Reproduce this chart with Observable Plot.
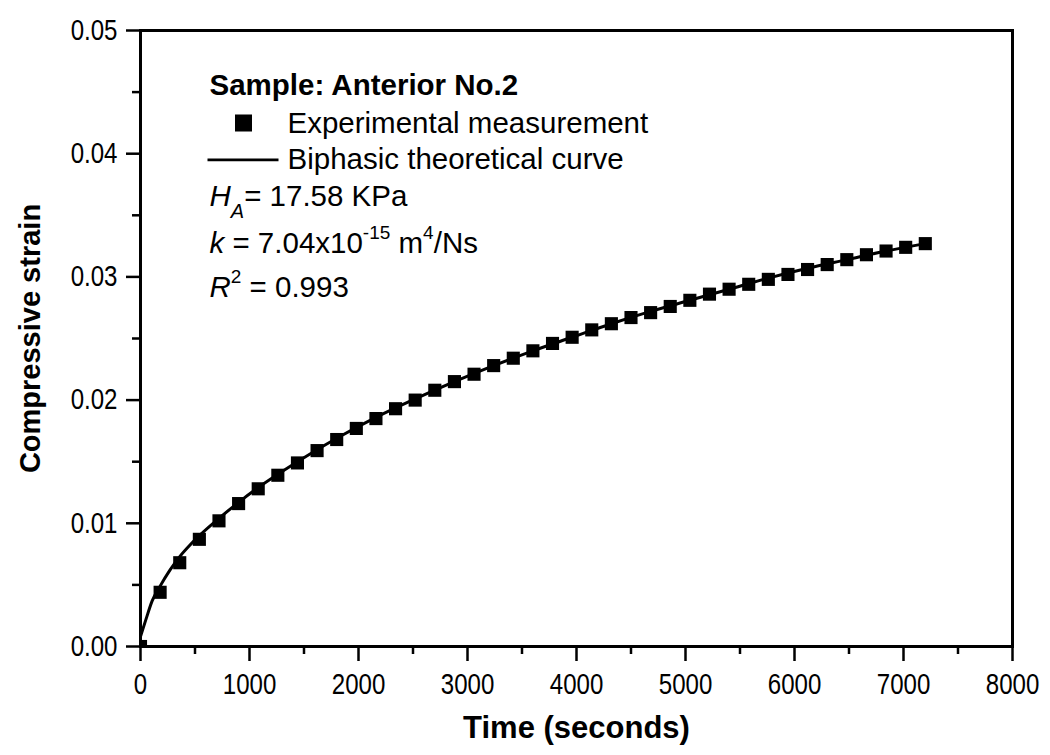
<!DOCTYPE html>
<html><head><meta charset="utf-8">
<script src="https://cdn.jsdelivr.net/npm/d3@7"></script>
<script src="https://cdn.jsdelivr.net/npm/@observablehq/plot@0.6"></script>
<style>
body{margin:0;background:#fff}
#chart svg{font-family:"Liberation Sans",Arial,sans-serif}
</style>
</head><body><div id="chart"></div>
<script>
// Experimental measurement (time in s, compressive strain)
const times = [0,180,360,540,720,900,1080,1260,1440,1620,1800,1980,2160,2340,2520,2700,2880,3060,3240,3420,3600,3780,3960,4140,4320,4500,4680,4860,5040,5220,5400,5580,5760,5940,6120,6300,6480,6660,6840,7020,7200];
const strains = [0.0000,0.0044,0.0068,0.0087,0.0102,0.0116,0.0128,0.0139,0.0149,0.0159,0.0168,0.0177,0.0185,0.0193,0.0200,0.0208,0.0215,0.0221,0.0228,0.0234,0.0240,0.0246,0.0251,0.0257,0.0262,0.0267,0.0271,0.0276,0.0281,0.0286,0.0290,0.0294,0.0298,0.0302,0.0306,0.0310,0.0314,0.0318,0.0321,0.0324,0.0327];
// Biphasic theoretical curve
const curveTimes = [0,50,107,180,270,360,450,540,720,900,1080,1440,1800,2160,2520,2880,3240,3600,3960,4320,4680,5040,5400,5760,6120,6480,6840,7200];
const curveStrains = [0.0008,0.0022,0.0037,0.0049,0.0062,0.0073,0.0082,0.0090,0.0104,0.0117,0.0129,0.0150,0.0169,0.0186,0.0201,0.0215,0.0228,0.0240,0.0251,0.0262,0.0272,0.0281,0.0290,0.0299,0.0307,0.0314,0.0321,0.0327];
// Ticks
const xTicks = [0,1000,2000,3000,4000,5000,6000,7000,8000];
const xMinorTicks = [500,1500,2500,3500,4500,5500,6500,7500];
const yTicks = [0,0.01,0.02,0.03,0.04,0.05];
const yMinorTicks = [0.005,0.015,0.025,0.035,0.045];
// Texts
const xTitle = "Time (seconds)";
const yTitle = "Compressive strain";
const legendTitle = "Sample: Anterior No.2";
const legendPoints = "Experimental measurement";
const legendCurve = "Biphasic theoretical curve";

const points = times.map((t, i) => ({t, s: strains[i]}));
const curve = curveTimes.map((t, i) => ({t, s: curveStrains[i]}));

const legendLine = {draw(ctx) { ctx.moveTo(-35.5, 0); ctx.lineTo(35.5, 0); }};
const LF = 29.5;
const TF = 29;

const plot = Plot.plot({
  width: 1050, height: 755,
  marginLeft: 140, marginRight: 38, marginTop: 30, marginBottom: 109,
  x: {domain: [0, 8000]},
  y: {domain: [0, 0.05]},
  style: {background: "white", color: "black", fontFamily: '"Liberation Sans", Arial, sans-serif'},
  marks: [
    Plot.axisX({ticks: xTicks, tickSize: 15, tickPadding: 12, fontSize: TF, tickFormat: d => String(d), label: null, strokeWidth: 2.5}),
    Plot.axisX({ticks: xMinorTicks, tickSize: 8, tickFormat: () => "", label: null, strokeWidth: 2.5}),
    Plot.axisY({ticks: yTicks, tickSize: 14, tickPadding: 9, fontSize: TF, tickFormat: d3.format(".2f"), label: null, strokeWidth: 2.5}),
    Plot.axisY({ticks: yMinorTicks, tickSize: 8, tickFormat: () => "", label: null, strokeWidth: 2.5}),
    Plot.line(curve, {x: "t", y: "s", stroke: "black", strokeWidth: 3, curve: "monotone-x", clip: true}),
    Plot.dot(points, {x: "t", y: "s", symbol: "square", r: 7.4, fill: "black", clip: true}),
    Plot.frame({stroke: "black", strokeWidth: 3}),
    Plot.text([xTitle], {text: d => d, frameAnchor: "bottom", dy: 82, fontSize: 31, fontWeight: "bold", textAnchor: "middle", lineAnchor: "middle", fill: "black"}),
    Plot.text([yTitle], {text: d => d, frameAnchor: "left", dx: -110, rotate: -90, fontSize: 29, fontWeight: "bold", textAnchor: "middle", lineAnchor: "middle", fill: "black"}),
    // legend
    Plot.text([legendTitle], {text: d => d, frameAnchor: "top-left", dx: 69, dy: 64, textAnchor: "start", lineAnchor: "bottom", fontSize: LF, fontWeight: "bold", fill: "black"}),
    Plot.dot([0], {frameAnchor: "top-left", dx: 103, dy: 92.5, symbol: "square", r: 9.6, fill: "black"}),
    Plot.text([legendPoints], {text: d => d, frameAnchor: "top-left", dx: 147, dy: 102, textAnchor: "start", lineAnchor: "bottom", fontSize: LF, fill: "black"}),
    Plot.dot([0], {frameAnchor: "top-left", dx: 102.5, dy: 129.3, symbol: legendLine, fill: "none", stroke: "black", strokeWidth: 2.8}),
    Plot.text([legendCurve], {text: d => d, frameAnchor: "top-left", dx: 147, dy: 138, textAnchor: "start", lineAnchor: "bottom", fontSize: LF, fill: "black"}),
    Plot.text(["RICH_H"], {text: d => d, frameAnchor: "top-left", dx: 69, dy: 175, textAnchor: "start", lineAnchor: "bottom", fontSize: LF, fill: "black"}),
    Plot.text(["RICH_K"], {text: d => d, frameAnchor: "top-left", dx: 69, dy: 222, textAnchor: "start", lineAnchor: "bottom", fontSize: LF, fill: "black"}),
    Plot.text(["RICH_R"], {text: d => d, frameAnchor: "top-left", dx: 69, dy: 266, textAnchor: "start", lineAnchor: "bottom", fontSize: LF, fill: "black"})
  ]
});

const rich = {
  RICH_H: '<tspan font-style="italic">H</tspan><tspan font-style="italic" font-size="20" dy="12">A</tspan><tspan dy="-12">= 17.58 KPa</tspan>',
  RICH_K: '<tspan font-style="italic">k</tspan><tspan> = 7.04x10</tspan><tspan font-size="19" dy="-14">-15</tspan><tspan dy="14"> m</tspan><tspan font-size="19" dy="-14">4</tspan><tspan dy="14">/Ns</tspan>',
  RICH_R: '<tspan font-style="italic">R</tspan><tspan font-size="19" dy="-14">2</tspan><tspan dy="14"> = 0.993</tspan>'
};
d3.select(plot).selectAll("text").each(function() {
  const k = this.textContent;
  if (rich[k]) this.innerHTML = rich[k];
});
// condensed tick labels, as in the reference
d3.select(plot).selectAll('g[aria-label="x-axis tick label"] text, g[aria-label="y-axis tick label"] text').each(function() {
  const t = this.getAttribute("transform") || "";
  this.setAttribute("transform", t + " scale(0.83,1)");
});

document.getElementById("chart").appendChild(plot);
</script>
</body></html>
